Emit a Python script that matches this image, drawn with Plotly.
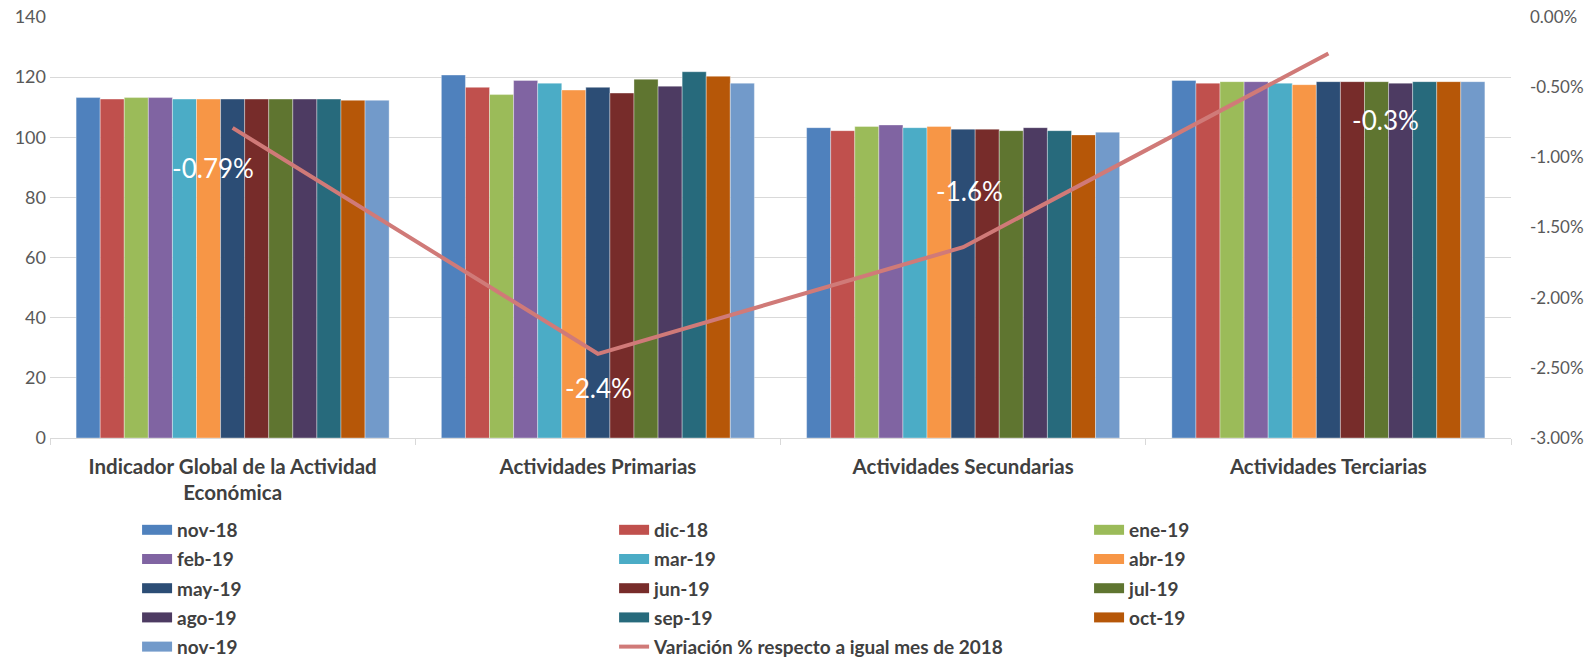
import plotly.graph_objects as go

# Categories (x axis) and months (bar series)
categories = [
    "Indicador Global de la Actividad<br>Económica",
    "Actividades Primarias",
    "Actividades Secundarias",
    "Actividades Terciarias",
]
months = ["nov-18", "dic-18", "ene-19", "feb-19", "mar-19", "abr-19", "may-19",
          "jun-19", "jul-19", "ago-19", "sep-19", "oct-19", "nov-19"]

# Index values per category, one per month
igae = [113.2, 112.7, 113.2, 113.2, 112.7, 112.7, 112.7, 112.7, 112.7, 112.7, 112.7, 112.3, 112.3]
primarias = [120.7, 116.6, 114.2, 118.9, 118.0, 115.7, 116.6, 114.7, 119.3, 117.0, 121.8, 120.3, 118.0]
secundarias = [103.2, 102.2, 103.6, 104.1, 103.2, 103.6, 102.7, 102.7, 102.2, 103.2, 102.2, 100.8, 101.7]
terciarias = [118.9, 118.0, 118.5, 118.5, 118.0, 117.5, 118.5, 118.5, 118.5, 118.0, 118.5, 118.5, 118.5]

# Annual % change (secondary axis) and decimals used in its labels
variacion = [-0.79, -2.40, -1.64, -0.26]
label_decimals = [2, 1, 1, 1]
line_name = "Variación % respecto a igual mes de 2018"

# Axis ticks
left_ticks = [0, 20, 40, 60, 80, 100, 120, 140]
right_ticks = [0.0, -0.5, -1.0, -1.5, -2.0, -2.5, -3.0]
right_ticktext = ["0.00%", "-0.50%", "-1.00%", "-1.50%", "-2.00%", "-2.50%", "-3.00%"]

colors = ["#4F81BD", "#C0504D", "#9BBB59", "#8064A2", "#4BACC6", "#F79646", "#2C4D75",
          "#772C2A", "#5F7530", "#4D3B62", "#276A7C", "#B65708", "#729ACA"]
line_color = "#D07A78"
text_color = "#595959"
grid_color = "#D9D9D9"
FONT = "Lato"

fig = go.Figure()

series = [igae, primarias, secundarias, terciarias]
for i, (m, c) in enumerate(zip(months, colors)):
    fig.add_trace(go.Bar(
        x=categories, y=[s[i] for s in series], name=m,
        marker=dict(color=c, line=dict(color="rgba(255,255,255,0.45)", width=0.8)),
        showlegend=False, yaxis="y",
    ))

# Legend entries laid out in three columns (row-wise order)
legend_ids = ["legend", "legend2", "legend3"]
for i, (m, c) in enumerate(zip(months, colors)):
    fig.add_trace(go.Scatter(
        x=[None], y=[None], mode="lines", name=m,
        line=dict(color=c, width=12),
        legend=legend_ids[i % 3], legendgroup=m, hoverinfo="skip",
    ))

fig.add_trace(go.Scatter(
    x=categories, y=variacion, mode="lines", name=line_name,
    line=dict(color=line_color, width=4), yaxis="y2",
    legend="legend2", legendgroup="var",
))

# Value labels on the line
offsets = [(-20, -40), (1, -34), (6, 56), (57, -67)]
for cat, v, d, (dx, dy) in zip(categories, variacion, label_decimals, offsets):
    fig.add_annotation(
        x=cat, y=v, xref="x", yref="y2", text=f"{v:.{d}f}%",
        showarrow=False, xshift=dx, yshift=dy,
        font=dict(family=FONT, size=26, color="white"),
    )

legend_common = dict(
    orientation="v", xanchor="left", yanchor="top",
    bgcolor="rgba(0,0,0,0)", tracegroupgap=1.5,
    font=dict(family=FONT, size=19, color="#404040", weight="bold"),
)
fig.update_layout(
    width=1587, height=661,
    margin=dict(l=50, r=76, t=17, b=223, autoexpand=False),
    paper_bgcolor="white", plot_bgcolor="white",
    barmode="group", bargap=0.143, bargroupgap=0,
    font=dict(family=FONT, color=text_color),
    xaxis=dict(
        type="category", showgrid=False, showline=True, linecolor=grid_color,
        ticks="outside", tickson="boundaries", ticklen=6, tickcolor=grid_color,
        ticklabelstandoff=10,
        tickfont=dict(family=FONT, size=20.5, color="#404040", weight="bold"),
    ),
    yaxis=dict(
        range=[0, 140], tickvals=left_ticks, showgrid=True, gridcolor=grid_color,
        zeroline=False, showline=False, ticks="", ticklabelstandoff=3,
        tickfont=dict(family=FONT, size=18, color=text_color),
    ),
    yaxis2=dict(
        range=[-3, 0], overlaying="y", side="right",
        tickvals=right_ticks, ticktext=right_ticktext,
        showgrid=False, zeroline=False, showline=False, ticks="",
        ticklabelstandoff=18,
        tickfont=dict(family=FONT, size=17, color=text_color),
    ),
    legend=dict(x=0.0596, y=-0.1733, **legend_common),
    legend2=dict(x=0.3861, y=-0.1733, **legend_common),
    legend3=dict(x=0.7112, y=-0.1733, **legend_common),
    showlegend=True,
)

fig.write_html("out.html")
